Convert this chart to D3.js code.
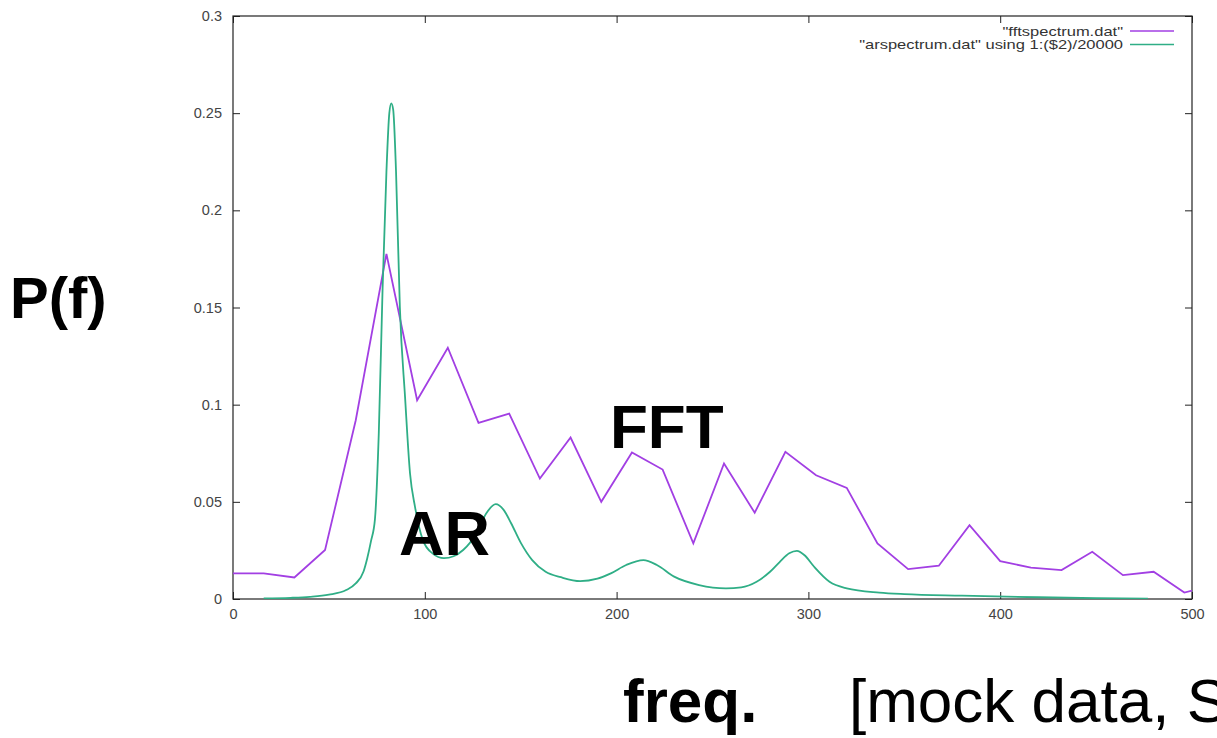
<!DOCTYPE html>
<html>
<head>
<meta charset="utf-8">
<script src="https://cdn.jsdelivr.net/npm/d3@7"></script>
<style>
  body { margin: 0; background: #fff; overflow: hidden; }
  svg { display: block; font-family: "Liberation Sans", Arial, sans-serif; }
  .axis path { display: none; }
  .axis line { stroke: #222; }
  .axis text { fill: #444; font-size: 14.5px; }
</style>
</head>
<body>
<svg id="chart" width="1217" height="738"></svg>
<script>
// FFT spectrum, bins every 16 units
var fftFreq = [0, 16, 32, 48, 64, 80, 96, 112, 128, 144, 160, 176, 192, 208, 224, 240,
               256, 272, 288, 304, 320, 336, 352, 368, 384, 400, 416, 432, 448, 464, 480, 496, 512];
var fftPower = [0.0132, 0.0132, 0.0111, 0.0252, 0.092, 0.1776, 0.1023, 0.1293, 0.0906, 0.0954,
                0.062, 0.0831, 0.050, 0.0754, 0.0666, 0.0286, 0.0697, 0.0444, 0.0757, 0.0637,
                0.0572, 0.0286, 0.0154, 0.0171, 0.038, 0.0195, 0.0161, 0.0149, 0.0243, 0.0123,
                0.014, 0.0033, 0.0073];

// AR spectrum (scaled by 1/20000)
var arFreq = [16, 30, 40, 50, 59, 64, 68, 70, 72, 74, 76, 78, 80, 81.5, 82.5, 83.5, 85, 87, 89.7,
              92.3, 94.9, 99, 104, 110, 115, 120, 127, 132, 137, 141, 145, 150, 156, 163,
              171, 181, 190, 197, 205, 214, 221, 230, 243, 257, 265, 273, 280, 285, 290,
              294, 298, 303, 311, 320, 337, 350, 380, 420, 450, 477];
var arPower = [0.0003, 0.0006, 0.0011, 0.0022, 0.0046, 0.008, 0.014, 0.021, 0.030, 0.041, 0.085, 0.16,
               0.22, 0.25, 0.255, 0.252, 0.22, 0.150, 0.104, 0.0646, 0.0474, 0.0303, 0.0235,
               0.021, 0.022, 0.0252, 0.034, 0.044, 0.0488, 0.046, 0.039, 0.029, 0.020, 0.014,
               0.0112, 0.0092, 0.0105, 0.0132, 0.0175, 0.020, 0.0175, 0.0115, 0.0072, 0.0055,
               0.006, 0.0089, 0.014, 0.019, 0.0235, 0.0248, 0.0225, 0.0166, 0.0089, 0.0055,
               0.0033, 0.0025, 0.0017, 0.0009, 0.0005, 0.0002];

var xTicks = [0, 100, 200, 300, 400, 500];
var xTickLabels = ["0", "100", "200", "300", "400", "500"];
var yTicks = [0, 0.05, 0.1, 0.15, 0.2, 0.25, 0.3];
var yTickLabels = ["0", "0.05", "0.1", "0.15", "0.2", "0.25", "0.3"];

var legendLabels = ['"fftspectrum.dat"', '"arspectrum.dat" using 1:($2)/20000'];
var seriesColors = ["#a23fe3", "#2fae86"];

// plot frame (note: "top" is reserved on window, so use plotTop etc.)
var plotLeft = 233, plotRight = 1192, plotTop = 16, plotBottom = 599;
var tickLen = 7;

var svg = d3.select("#chart");

var x = d3.scaleLinear().domain([0, 500]).range([plotLeft, plotRight]);
var y = d3.scaleLinear().domain([0, 0.3]).range([plotBottom, plotTop]);

svg.append("clipPath").attr("id", "plot-clip")
    .append("rect")
    .attr("x", plotLeft).attr("y", plotTop)
    .attr("width", plotRight - plotLeft).attr("height", plotBottom - plotTop);

// axes, gnuplot style: ticks inward, mirrored on top/right
svg.append("g").attr("class", "axis")
    .attr("transform", "translate(0," + plotBottom + ")")
    .call(d3.axisBottom(x).tickValues(xTicks)
        .tickFormat((d, i) => xTickLabels[i])
        .tickSizeInner(-tickLen).tickSizeOuter(0).tickPadding(10));

svg.append("g").attr("class", "axis")
    .attr("transform", "translate(0," + plotTop + ")")
    .call(d3.axisTop(x).tickValues(xTicks).tickFormat("")
        .tickSizeInner(-tickLen).tickSizeOuter(0));

svg.append("g").attr("class", "axis")
    .attr("transform", "translate(" + plotLeft + ",0)")
    .call(d3.axisLeft(y).tickValues(yTicks)
        .tickFormat((d, i) => yTickLabels[i])
        .tickSizeInner(-tickLen).tickSizeOuter(0).tickPadding(11));

svg.append("g").attr("class", "axis")
    .attr("transform", "translate(" + plotRight + ",0)")
    .call(d3.axisRight(y).tickValues(yTicks).tickFormat("")
        .tickSizeInner(-tickLen).tickSizeOuter(0));

svg.append("rect")
    .attr("x", plotLeft).attr("y", plotTop)
    .attr("width", plotRight - plotLeft).attr("height", plotBottom - plotTop)
    .attr("fill", "none").attr("stroke", "#222").attr("stroke-width", 1.2);

// series
var plot = svg.append("g").attr("clip-path", "url(#plot-clip)");

var fftLine = d3.line()
    .x((d, i) => x(fftFreq[i]))
    .y(d => y(d));

var arLine = d3.line()
    .x((d, i) => x(arFreq[i]))
    .y(d => y(d))
    .curve(d3.curveMonotoneX);

plot.append("path")
    .datum(fftPower)
    .attr("d", fftLine)
    .attr("fill", "none")
    .attr("stroke", seriesColors[0])
    .attr("stroke-width", 1.8);

plot.append("path")
    .datum(arPower)
    .attr("d", arLine)
    .attr("fill", "none")
    .attr("stroke", seriesColors[1])
    .attr("stroke-width", 1.8);

// legend (gnuplot text looks stretched sideways in the original)
var legend = svg.append("g");
legendLabels.forEach(function (label, i) {
    var ly = 31 + i * 13.5;
    legend.append("text")
        .attr("transform", "translate(1123," + ly + ") scale(1.27,1)")
        .attr("dy", "0.35em")
        .attr("text-anchor", "end")
        .attr("font-size", 13)
        .attr("fill", "#333")
        .text(label);
    legend.append("line")
        .attr("x1", 1130).attr("x2", 1174)
        .attr("y1", ly).attr("y2", ly)
        .attr("stroke", seriesColors[i])
        .attr("stroke-width", 1.5);
});

// big annotations
svg.append("text")
    .attr("x", 10).attr("y", 318)
    .attr("font-size", 58).attr("font-weight", "bold")
    .text("P(f)");

svg.append("text")
    .attr("x", 610).attr("y", 448)
    .attr("font-size", 62).attr("font-weight", "bold")
    .text("FFT");

svg.append("text")
    .attr("x", 399).attr("y", 555)
    .attr("font-size", 63).attr("font-weight", "bold")
    .text("AR");

svg.append("text")
    .attr("x", 623).attr("y", 722)
    .attr("font-size", 62).attr("font-weight", "bold")
    .text("freq.");

svg.append("text")
    .attr("x", 849).attr("y", 722)
    .attr("font-size", 62)
    .text("[mock data, Spectra]");
</script>
</body>
</html>
